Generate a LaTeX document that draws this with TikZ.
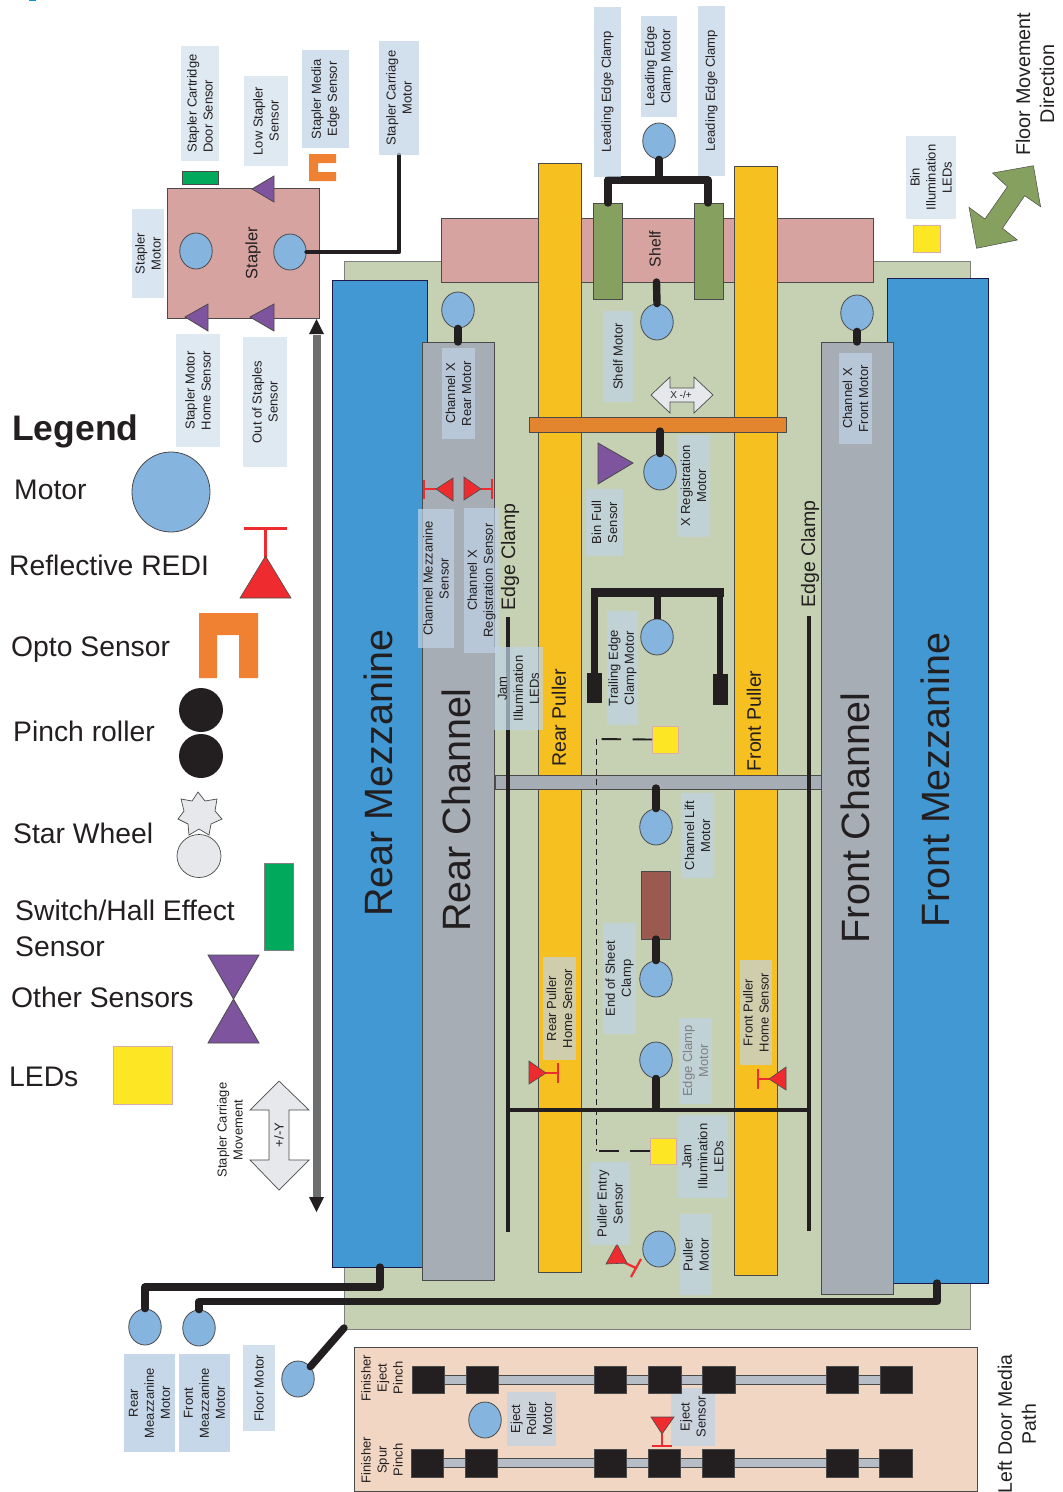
\documentclass[tikz,border=0pt]{standalone}
\usepackage{fontspec}
\setmainfont{Liberation Sans}
\usetikzlibrary{shapes.geometric}
\definecolor{ink}{HTML}{231F20}
\definecolor{edgeg}{HTML}{4A4A4A}
\definecolor{motorblue}{HTML}{85B4DE}
\definecolor{bggreen}{HTML}{C5D1B2}
\definecolor{shelfpink}{HTML}{D6A3A0}
\definecolor{mezzblue}{HTML}{4298D3}
\definecolor{chgray}{HTML}{A6ADB4}
\definecolor{pullyellow}{HTML}{F6C021}
\definecolor{clampgreen}{HTML}{86A05F}
\definecolor{orangebar}{HTML}{E2852E}
\definecolor{optoorange}{HTML}{F18132}
\definecolor{sensorpurple}{HTML}{7F549F}
\definecolor{redsensor}{HTML}{EE2C2F}
\definecolor{ledyellow}{HTML}{FDE725}
\definecolor{switchgreen}{HTML}{00A95C}
\definecolor{brownclamp}{HTML}{9A5A50}
\definecolor{doorpeach}{HTML}{F0D6C3}
\definecolor{lightgrayfill}{HTML}{E6E8EC}
\definecolor{barsilver}{HTML}{B6BDC6}
\definecolor{carriagegray}{HTML}{6D6E70}
\definecolor{labelblue}{HTML}{BFD3E6}
\tikzset{
  x=1pt,y=-1pt,
  txt/.style={text=ink,inner sep=0pt,font=\fontsize{13}{16}\selectfont,align=center},
  lblbox/.style={txt,fill=labelblue,fill opacity=.7,text opacity=1,rotate=90},
  rottxt/.style={txt,rotate=90},
  legendtxt/.style={text=ink,inner sep=0pt,anchor=west,font=\fontsize{28.3}{36}\selectfont,align=left},
  bigtxt/.style={rottxt,font=\fontsize{39.5}{44}\selectfont},
  midtxt/.style={rottxt,font=\fontsize{19.5}{24}\selectfont},
  motor/.style={ellipse,draw=edgeg,line width=.8pt,fill=motorblue,minimum width=32.5pt,minimum height=36pt,inner sep=0pt},
  wire/.style={draw=ink,line width=7.4pt,line cap=round,line join=round},
  thinwire/.style={draw=ink,line width=4.7pt,line cap=round,line join=round},
  railline/.style={draw=ink,line width=4.6pt},
  panel/.style={draw=edgeg,line width=.9pt},
  purpletri/.style={draw=edgeg,line width=.8pt,fill=sensorpurple},
  redtri/.style={draw=edgeg,line width=.6pt,fill=redsensor},
  redbar/.style={draw=redsensor,line width=2.2pt},
  block/.style={fill=ink,draw=edgeg,line width=.5pt},
  led/.style={fill=ledyellow,draw=pink!70!gray,line width=.8pt},
}
\newcommand{\lbl}[7][]{%
  \pgfmathsetmacro{\lcx}{(#3+#5)/2}\pgfmathsetmacro{\lcy}{(#4+#6)/2}%
  \pgfmathsetmacro{\lw}{#6-#4}\pgfmathsetmacro{\lh}{#5-#3}%
  \node[lblbox,minimum width=\lw pt,minimum height=\lh pt,#1] (#2) at (\lcx,\lcy) {#7};}
\begin{document}
\begin{tikzpicture}
\useasboundingbox (0,0) rectangle (1063,1492);
\fill[cyan!80!blue] (29,0) rectangle (36,1.2);

% ---------- main panels
\draw[panel,fill=bggreen,draw=gray] (344,261) rectangle (970,1329);
\draw[panel,fill=shelfpink] (441,218) rectangle (873,282);
\draw[panel,fill=mezzblue,draw=ink!80!blue] (332,280) rectangle (427,1267);
\draw[panel,fill=mezzblue,draw=ink!80!blue] (887,278) rectangle (988,1283);
\draw[panel,fill=chgray] (422,342) rectangle (494,1280);
\draw[panel,fill=chgray] (821,342) rectangle (893,1294);
\draw[panel,fill=pullyellow] (538,163) rectangle (581,1272);
\draw[panel,fill=pullyellow] (734,166) rectangle (777,1275);

% ---------- rails & lines
\draw[panel,fill=clampgreen] (593,203) rectangle (622,299);
\draw[panel,fill=clampgreen] (694,203) rectangle (723,299);
\node[rottxt,font=\fontsize{15.8}{18}\selectfont] (shelftxt) at (655,249) {Shelf};
\draw[panel,fill=orangebar] (529,417) rectangle (786,432);
\draw[panel,fill=chgray] (495,775) rectangle (821,789);
\draw[panel,fill=brownclamp] (641,871) rectangle (670,939);

\coordinate (ecRearTop) at (508,617);
\coordinate (ecRearBot) at (508,1232);
\coordinate (ecFrontTop) at (809,616);
\coordinate (ecFrontBot) at (809,1231);
\draw[railline] (ecRearTop) -- (ecRearBot);
\draw[railline] (ecFrontTop) -- (ecFrontBot);
\draw[draw=ink,line width=4.4pt] (ecRearBot |- 0,1110) -- (ecFrontBot |- 0,1110);

% ---------- motors
\node[motor] (mLeadEdge) at (659,141) {};
\node[motor] (mShelf) at (657,322) {};
\node[motor] (mXReg) at (660,472) {};
\node[motor] (mChXRear) at (458,310) {};
\node[motor] (mChXFront) at (857,313) {};
\node[motor] (mTrail) at (657,637) {};
\node[motor] (mLift) at (656,827) {};
\node[motor] (mEOS) at (656,979) {};
\node[motor] (mEdge) at (656,1060) {};
\node[motor] (mPuller) at (659,1249) {};
\node[motor] (mRearMezz) at (145,1327) {};
\node[motor] (mFrontMezz) at (199,1328) {};
\node[motor] (mFloor) at (298,1379) {};
\node[motor,minimum width=78pt,minimum height=80pt] (legMotor) at (171,492) {};

% ---------- stapler
\node[draw=edgeg,line width=.9pt,fill=shelfpink,minimum width=152pt,minimum height=130pt,inner sep=0] (staplerbox) at (243,253) {};
\node[motor] (mStapler) at (196,251) {};
\node[motor] (mCarriage) at (290,252) {};
\node[rottxt,font=\fontsize{16.5}{20}\selectfont] (staplertxt) at (253,253) {Stapler};
\fill[switchgreen,draw=edgeg,line width=.8pt] (182,171) rectangle (218,184);
\draw[purpletri] (252,189) -- (274,176) -- (274,202) -- cycle;
\draw[purpletri] (185,317) -- (208,304) -- (208,331) -- cycle;
\draw[purpletri] (250,317) -- (274,304) -- (274,331) -- cycle;
\fill[optoorange] (309,154) -- (336,154) -- (336,163) -- (318,163) -- (318,172) -- (336,172) -- (336,181) -- (309,181) -- cycle;

% ---------- connectors
\coordinate (carrEnd) at (399,155);
\draw[thinwire] (mCarriage.east) -| (carrEnd);
\coordinate (leJunction) at (659,180);
\coordinate (leL) at (608,203);
\coordinate (leR) at (708,203);
\draw[wire] (mLeadEdge.south) -- (leJunction);
\draw[wire] (leL) |- (leJunction) -| (leR);
\coordinate (shelfWire) at (656.5,282);
\draw[wire] (shelfWire) -- (mShelf.north);
\coordinate (xregWire) at (660,431);
\draw[wire] (xregWire) -- (mXReg.north);
\coordinate (chRearTop) at (458,342);
\draw[wire] (mChXRear.south) -- (chRearTop);
\coordinate (chFrontTop) at (857,342);
\draw[wire] (mChXFront.south) -- (chFrontTop);
\coordinate (liftTop) at (656,788);
\draw[wire] (liftTop) -- (mLift.north);
\coordinate (brownBot) at (656,939);
\draw[wire] (brownBot) -- (mEOS.north);
\coordinate (edgeWireEnd) at (656,1107);
\draw[wire] (mEdge.south) -- (edgeWireEnd);

% trailing edge clamp
\coordinate (teBarL) at (591,592.5);
\coordinate (teBarR) at (724,592.5);
\draw[draw=ink,line width=9pt] (teBarL) -- (teBarR);
\draw[draw=ink,line width=7pt] (mTrail.north) -- (mTrail.north |- teBarL);
\draw[draw=ink,line width=7pt] (594.5,588) -- (594.5,673);
\draw[draw=ink,line width=6.5pt] (720,588) -- (720,675);
\fill[ink] (587,673) rectangle (602,703);
\fill[ink] (713,674) rectangle (728,705);

% mezzanine & floor wires
\coordinate (rmStart) at (380,1267);
\coordinate (rmCorner) at (145,1287);
\draw[wire] (rmStart) |- (rmCorner) -- (mRearMezz.north);
\coordinate (fmStart) at (937,1283);
\coordinate (fmCorner) at (199,1301.5);
\draw[wire] (fmStart) |- (fmCorner) -- (mFrontMezz.north);
\coordinate (floorPanel) at (344,1328);
\draw[wire] (mFloor.45) -- (floorPanel);

% dashed LED links
\node[led,minimum width=26pt,minimum height=27pt,inner sep=0] (ledTop) at (665.5,739.5) {};
\node[led,minimum width=26pt,minimum height=26pt,inner sep=0] (ledBot) at (663,1151) {};
\node[led,minimum width=27pt,minimum height=27pt,inner sep=0] (ledBin) at (926.5,238.5) {};
\coordinate (dashTop) at (596,739);
\coordinate (dashBot) at (596,1151);
\draw[draw=ink,line width=.7pt,dash pattern=on 6pt off 4pt] (dashTop) -- (dashBot);
\draw[draw=ink,line width=1.9pt,dash pattern=on 19.5pt off 11.5pt] (ledTop.west) -- (dashTop);
\draw[draw=ink,line width=1.9pt,dash pattern=on 19.5pt off 11.5pt] (ledBot.west) -- (dashBot);

% ---------- sensors on channels
\draw[purpletri] (598,443) -- (633,463) -- (598,484) -- cycle;
\draw[redbar] (424,480) -- (424,499) (424,489) -- (436,489);
\draw[redtri] (436,489) -- (453,478) -- (453,501) -- cycle;
\draw[redbar] (492,479) -- (492,499) (481,489) -- (492,489);
\draw[redtri] (481,489) -- (464,477) -- (464,500) -- cycle;
\draw[redbar] (558,1063) -- (558,1083) (546,1073) -- (558,1073);
\draw[redtri] (546,1073) -- (529,1061) -- (529,1084) -- cycle;
\draw[redbar] (758,1069) -- (758,1089) (758,1079) -- (769,1079);
\draw[redtri] (769,1079) -- (786,1067) -- (786,1090) -- cycle;
\draw[redbar] (641,1259) -- (631,1277) (636,1268) -- (621,1261);
\draw[redtri] (617,1244) -- (606,1264) -- (627,1263) -- cycle;

% ---------- X arrow
\draw[draw=edgeg,line width=.7pt,fill=lightgrayfill] (651,395) -- (670,377) -- (670,388) -- (694,388) -- (694,377) -- (713,395) -- (694,413) -- (694,402) -- (670,402) -- (670,413) -- cycle;
\node[txt,font=\fontsize{10}{11}\selectfont] (xarrowtxt) at (681,395) {X -/+};

% ---------- labels
\lbl[fill opacity=.5,align=left]{lDoor}{181}{46}{219}{161}{Stapler Cartridge\\Door Sensor}
\lbl[fill opacity=.5]{lLow}{244}{76}{288}{166}{Low Stapler\\Sensor}
\lbl{lMedia}{302}{50}{349}{148}{Stapler Media\\Edge Sensor}
\lbl{lCarr}{379}{41}{419}{155}{Stapler Carriage\\Motor}
\lbl[fill opacity=.6]{lStapM}{132}{209}{164}{298}{Stapler\\Motor}
\lbl[fill opacity=.5]{lHome}{176}{334}{220}{447}{Stapler Motor\\Home Sensor}
\lbl[fill opacity=.5]{lOut}{243}{337}{287}{467}{Out of Staples\\Sensor}
\lbl{lLE1}{594}{7}{621}{177}{Leading Edge Clamp}
\lbl{lLEM}{641}{16}{677}{117}{Leading Edge\\Clamp Motor}
\lbl{lLE2}{698}{6}{725}{176}{Leading Edge Clamp}
\lbl{lShelfM}{603}{311}{633}{402}{Shelf Motor}
\lbl{lXreg}{677}{435}{710}{537}{X Registration\\Motor}
\lbl{lBinFull}{586}{489}{623}{556}{Bin Full\\Sensor}
\lbl{lChRear}{442}{348}{475}{439}{Channel X\\Rear Motor}
\lbl{lChFront}{839}{353}{872}{444}{Channel X\\Front Motor}
\lbl[fill opacity=.5]{lBin}{906}{136}{956}{219}{Bin\\Illumination\\LEDs}
\lbl{lChMezz}{418}{509}{454}{648}{Channel Mezzanine\\Sensor}
\lbl{lChReg}{464}{508}{499}{653}{Channel X\\Registration Sensor}
\lbl{lTrail}{607}{611}{638}{725}{Trailing Edge\\Clamp Motor}
\lbl{lJam1}{494}{647}{543}{730}{Jam\\Illumination\\LEDs}
\lbl{lLift}{681}{793}{714}{878}{Channel Lift\\Motor}
\lbl{lEOS}{603}{923}{636}{1034}{End of Sheet\\Clamp}
\lbl[text=gray]{lEdgeM}{679}{1018}{712}{1104}{Edge Clamp\\Motor}
\lbl{lRearHome}{543}{957}{576}{1060}{Rear Puller\\Home Sensor}
\lbl{lFrontHome}{740}{960}{772}{1065}{Front Puller\\Home Sensor}
\lbl{lJam2}{678}{1115}{728}{1198}{Jam\\Illumination\\LEDs}
\lbl{lEntry}{590}{1162}{630}{1245}{Puller Entry\\Sensor}
\lbl{lPuller}{680}{1214}{712}{1295}{Puller\\Motor}
\lbl[fill opacity=1,fill=labelblue!90!white]{lRearMezz}{124}{1354}{175}{1452}{Rear\\Meazzanine\\Motor}
\lbl[fill opacity=1,fill=labelblue!90!white]{lFrontMezz}{179}{1354}{230}{1452}{Front\\Meazzanine\\Motor}
\lbl[fill opacity=.7]{lFloor}{243}{1345}{275}{1431}{Floor Motor}

% ---------- panel captions
\node[bigtxt] (tRearMezz) at (378,773) {Rear Mezzanine};
\node[bigtxt] (tRearCh) at (456,810) {Rear Channel};
\node[bigtxt] (tFrontCh) at (855,818) {Front Channel};
\node[bigtxt] (tFrontMezz) at (935,780) {Front Mezzanine};
\node[midtxt] (tEC1) at (510,557) {Edge Clamp};
\node[midtxt] (tEC2) at (810,554) {Edge Clamp};
\node[midtxt] (tRP) at (559,718) {Rear Puller};
\node[midtxt] (tFP) at (754,721) {Front Puller};
\node[midtxt,font=\fontsize{19.8}{24}\selectfont] (tFloor) at (1035,84) {Floor Movement\\Direction};

% floor movement arrow
\draw[draw=edgeg,line width=.5pt,fill=clampgreen] (1033.4,165.7) -- (1040.6,206.7) -- (1024.7,195.7) -- (1002.5,228.3) -- (1017.4,240) -- (976.6,248.3) -- (969,207.3) -- (984.9,219) -- (1007.4,186.7) -- (992.5,173) -- cycle;

% stapler carriage travel
\coordinate (travTop) at (316.5,319);
\coordinate (travBot) at (316.5,1212);
\draw[draw=carriagegray,line width=8pt] (316.5,335) -- (316.5,1197);
\fill[ink] (travTop) -- (324,334) -- (309,334) -- cycle;
\fill[ink] (travBot) -- (324,1197) -- (309,1197) -- cycle;
\draw[draw=edgeg,line width=.7pt,fill=lightgrayfill] (279,1081) -- (309,1110) -- (289,1110) -- (289,1160) -- (309,1160) -- (279,1190) -- (250,1160) -- (269,1160) -- (269,1110) -- (250,1110) -- cycle;
\node[rottxt,font=\fontsize{13}{14}\selectfont] (yarrowtxt) at (279,1135) {+/-Y};
\node[rottxt] (tCarrMove) at (230,1130) {Stapler Carriage\\Movement};

% ---------- left door
\draw[panel,fill=doorpeach] (354,1347) rectangle (977,1491);
\lbl[fill=labelblue,fill opacity=.75]{lEjectS}{671}{1388}{715}{1446}{Eject\\Sensor}
\foreach \ya/\yb in {1375/1384,1458/1467}
  \draw[draw=edgeg,line width=.7pt,fill=barsilver] (430,\ya) rectangle (895,\yb);
\foreach \xa/\xb in {412/444,466/498,594/626,648/681,702/735,826/858,880/912}
  \fill[block] (\xa,1366) rectangle (\xb,1393);
\foreach \xa/\xb in {411/443,465/497,594/626,648/680,702/734,826/858,879/912}
  \fill[block] (\xa,1449) rectangle (\xb,1477);
\node[motor] (mEject) at (485,1420) {};
\lbl{lEject}{507}{1392}{556}{1446}{Eject\\Roller\\Motor}
\draw[redbar] (652,1446) -- (672,1446) (662,1434) -- (662,1446);
\draw[redtri] (662,1434) -- (651,1417) -- (674,1417) -- cycle;
\node[rottxt] (tEjectP) at (382,1378) {Finisher\\Eject\\Pinch};
\node[rottxt] (tSpurP) at (382,1460) {Finisher\\Spur\\Pinch};
\node[midtxt] (tDoor) at (1017,1424) {Left Door Media\\Path};

% ---------- legend
\node[legendtxt,font=\fontsize{35.5}{40}\selectfont\bfseries] (legTitle) at (12,431) {Legend};
\node[legendtxt] (legM) at (14,490) {Motor};
\node[legendtxt] (legR) at (9,565) {Reflective REDI};
\node[legendtxt] (legO) at (11,650) {Opto Sensor};
\node[legendtxt] (legP) at (13,731) {Pinch roller};
\node[legendtxt] (legS) at (13,833) {Star Wheel};
\node[legendtxt] (legH) at (15,928) {Switch/Hall Effect\\Sensor};
\node[legendtxt] (legOt) at (11,997) {Other Sensors};
\node[legendtxt] (legL) at (9,1077) {LEDs};
\draw[draw=redsensor,line width=2.6pt] (244,528.5) -- (287,528.5);
\draw[draw=redsensor,line width=2.6pt] (265.5,528.5) -- (265.5,557);
\draw[redtri] (265.5,556) -- (240,598) -- (291,598) -- cycle;
\fill[optoorange] (199,613) -- (258,613) -- (258,678) -- (239,678) -- (239,635) -- (217,635) -- (217,678) -- (199,678) -- cycle;
\node[ellipse,fill=ink,minimum width=44pt,minimum height=44pt,inner sep=0] (legP1) at (201,710) {};
\node[ellipse,fill=ink,minimum width=44pt,minimum height=44pt,inner sep=0] (legP2) at (201,756) {};
\draw[draw=edgeg,line width=.7pt,fill=lightgrayfill] (198,792) -- (205,801) -- (217,799) -- (215,811) -- (222,819) -- (211,824) -- (209,835) -- (199,829) -- (189,835) -- (188,824) -- (178,819) -- (184,811) -- (181,799) -- (192,801) -- cycle;
\node[ellipse,draw=edgeg,line width=.7pt,fill=lightgrayfill,minimum width=44pt,minimum height=43pt,inner sep=0] (legC) at (199,856) {};
\fill[switchgreen,draw=gray,line width=.7pt] (264,863) rectangle (293,950);
\draw[purpletri] (208,955) -- (259,955) -- (233.5,999) -- cycle;
\draw[purpletri] (208,1043) -- (259,1043) -- (233.5,999) -- cycle;
\node[led,minimum width=59pt,minimum height=58pt,inner sep=0] (legLed) at (142.5,1075) {};
\end{tikzpicture}
\end{document}
